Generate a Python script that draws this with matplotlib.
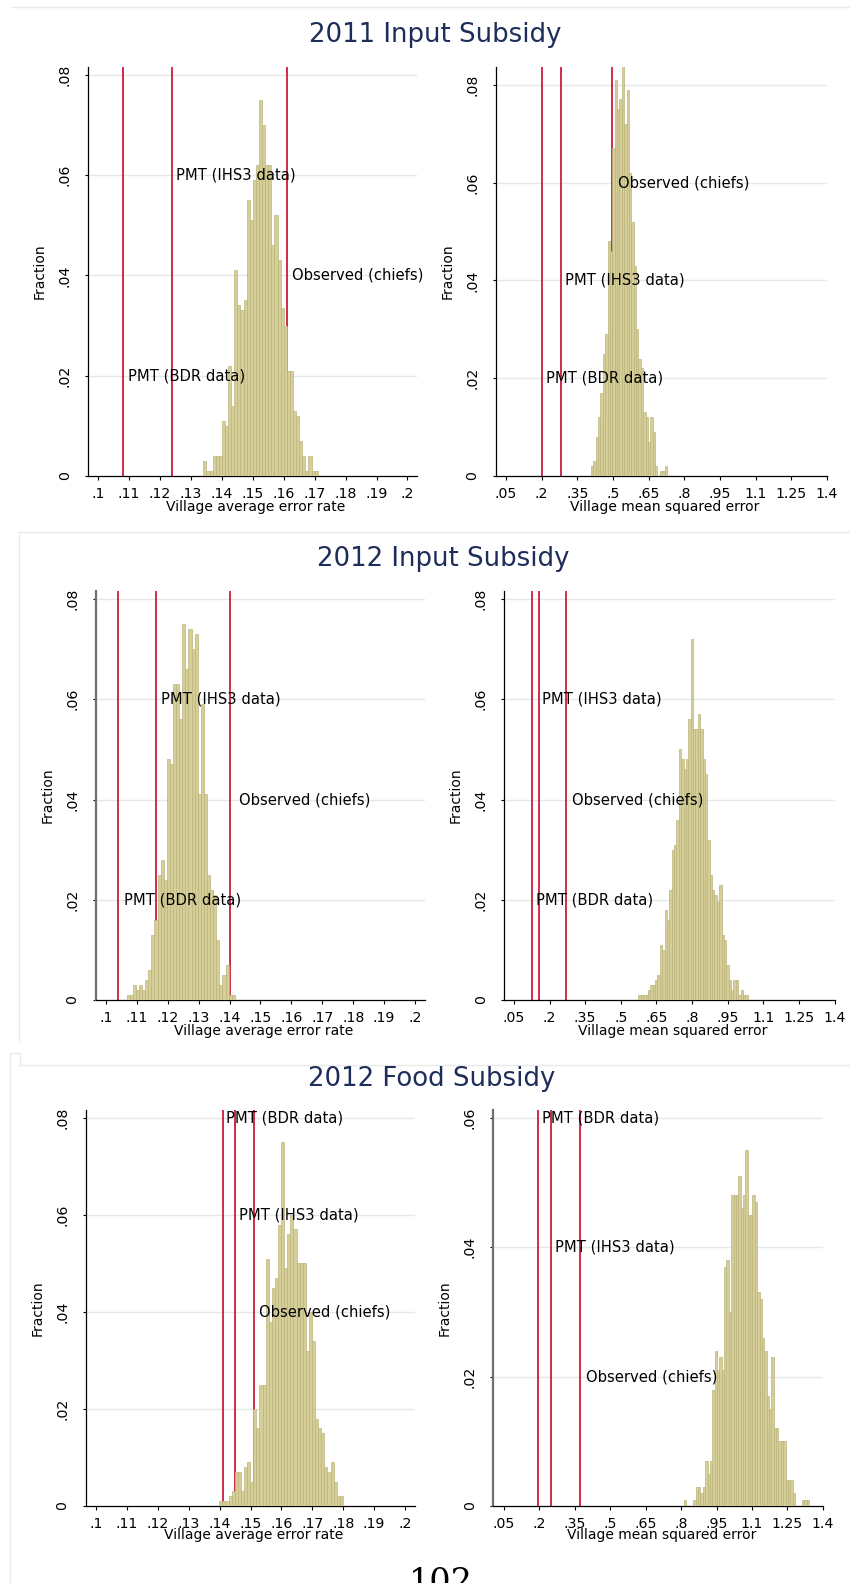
import matplotlib
matplotlib.use('Agg')
import matplotlib.pyplot as plt
from matplotlib.lines import Line2D

plt.rcParams['font.family'] = ['DejaVu Sans']

W, H = 850, 1583

# ---------------- data ----------------
titles = ['2011 Input Subsidy', '2012 Input Subsidy', '2012 Food Subsidy']
line_labels = ['PMT (BDR data)', 'PMT (IHS3 data)', 'Observed (chiefs)']
rate_xlabel = 'Village average error rate'
mse_xlabel = 'Village mean squared error'
ylabel = 'Fraction'

rate_ticks = [0.10, 0.11, 0.12, 0.13, 0.14, 0.15, 0.16, 0.17, 0.18, 0.19, 0.20]
rate_ticklabels = ['.1', '.11', '.12', '.13', '.14', '.15', '.16', '.17', '.18', '.19', '.2']
mse_ticks = [0.05, 0.2, 0.35, 0.5, 0.65, 0.8, 0.95, 1.1, 1.25, 1.4]
mse_ticklabels = ['.05', '.2', '.35', '.5', '.65', '.8', '.95', '1.1', '1.25', '1.4']
frac_ticks_08 = [0, 0.02, 0.04, 0.06, 0.08]
frac_ticklabels_08 = ['0', '.02', '.04', '.06', '.08']
frac_ticks_06 = [0, 0.02, 0.04, 0.06]
frac_ticklabels_06 = ['0', '.02', '.04', '.06']

# 2011 input subsidy - error rate
in11_rate_start, in11_rate_width = 0.134, 0.001
in11_rate_frac = [.003, .001, .001, .004, .004, .004, .011, .010, .022, .014,
                  .041, .034, .033, .035, .055, .051, .059, .062, .075, .070,
                  .062, .062, .046, .052, .043, .0335, .030, .021, .021, .013,
                  .012, .007, .004, .001, .004, .001, .001]
in11_rate_lines = [0.1081, 0.1239, 0.1610]
in11_rate_lab_x = [0.1095, 0.1251, 0.1627]
in11_rate_lab_y = [0.02, 0.06, 0.04]

# 2011 input subsidy - MSE
in11_mse_start, in11_mse_width = 0.4075, 0.01
in11_mse_frac = [.002, .003, .008, .012, .017, .025, .029, .048, .046, .067,
                 .081, .075, .077, .084, .072, .079, .062, .052, .043, .030,
                 .024, .022, .013, .012, .007, .012, .009, .002, 0, .001,
                 .001, .002]
in11_mse_lines = [0.2000, 0.2814, 0.4974]
in11_mse_lab_x = [0.2167, 0.2980, 0.5200]
in11_mse_lab_y = [0.02, 0.04, 0.06]

# 2012 input subsidy - error rate
in12_rate_start, in12_rate_width = 0.1067, 0.001
in12_rate_frac = [.001, .001, .003, .002, .003, .002, .004, .006, .013, .016,
                  .025, .028, .024, .048, .047, .063, .063, .056, .075, .066,
                  .074, .070, .073, .041, .059, .041, .025, .022, .021, .012,
                  .003, .005, .007, .001, .001]
in12_rate_lines = [0.1040, 0.1161, 0.1400]
in12_rate_lab_x = [0.1058, 0.1178, 0.1432]
in12_rate_lab_y = [0.02, 0.06, 0.04]

# 2012 input subsidy - MSE
in12_mse_start, in12_mse_width = 0.5743, 0.01
in12_mse_frac = [.001, .001, .001, .001, .002, .003, .003, .004, .005, .011,
                 .010, .018, .016, .022, .030, .031, .036, .050, .048, .046,
                 .048, .056, .072, .054, .054, .057, .054, .048, .045, .032,
                 .025, .022, .021, .0195, .023, .013, .012, .007, .004, .002,
                 .004, .004, .001, .002, .001, .001]
in12_mse_lines = [0.1271, 0.1552, 0.2688]
in12_mse_lab_x = [0.1426, 0.1692, 0.2926]
in12_mse_lab_y = [0.02, 0.06, 0.04]

# 2012 food subsidy - error rate
fd12_rate_start, fd12_rate_width = 0.1399, 0.001
fd12_rate_frac = [.001, .001, .001, .002, .003, .007, .007, .003, .008, .009,
                  .005, .020, .016, .025, .025, .051, .038, .045, .047, .058,
                  .075, .049, .056, .060, .057, .050, .050, .050, .032, .040,
                  .034, .018, .016, .015, .008, .007, .009, .005, .002, .002]
fd12_rate_lines = [0.1410, 0.1450, 0.1510]
fd12_rate_lab_x = [0.1421, 0.1462, 0.1526]
fd12_rate_lab_y = [0.08, 0.06, 0.04]

# 2012 food subsidy - MSE
fd12_mse_start, fd12_mse_width = 0.812, 0.01
fd12_mse_frac = [.001, 0, 0, 0, .001, .003, .003, .002, .003, .007,
                 .005, .007, .018, .024, .021, .023, .021, .037, .038, .030,
                 .048, .048, .048, .051, .046, .048, .055, .045, .045, .048,
                 .047, .033, .032, .026, .024, .017, .015, .023, .012, .012,
                 .010, .010, .010, .004, .004, .004, .002, 0, 0, 0,
                 .001, .001, .001]
fd12_mse_lines = [0.1937, 0.2486, 0.3739]
fd12_mse_lab_x = [0.2090, 0.2655, 0.3965]
fd12_mse_lab_y = [0.06, 0.04, 0.02]

# ---------------- style ----------------
BAR = '#D5CE99'
EDGE = '#BDB47C'
RED = '#CE1A3D'
GRID = '#E1EAEA'
TITLE_C = '#1F2D5A'

fig = plt.figure(figsize=(W / 100, H / 100), dpi=100)


def fx(x):
    return x / W


def fy(y):
    return 1 - y / H


def panel(box, xlim, ylim, xticks, xticklabels, yticks, yticklabels,
          start, width, frac, vlines, lab_x, lab_y, xlabel, xlab_y,
          spine_c='black', spine_lw=0.9):
    l, t, r, b = box
    ax = fig.add_axes([fx(l), fy(b), (r - l) / W, (b - t) / H])
    lefts = [start + i * width for i in range(len(frac))]
    ax.bar(lefts, frac, width=width, align='edge', color=BAR,
           edgecolor=EDGE, linewidth=0.5, zorder=3)
    for xv in vlines:
        ax.axvline(xv, color=RED, lw=1.3, zorder=2)
    for yv in yticks[1:]:
        ax.axhline(yv, color=GRID, lw=1.0, zorder=1)
    for txt, xx, yy in zip(line_labels, lab_x, lab_y):
        ax.text(xx, yy, txt, fontsize=10.6, ha='left', va='center',
                color='black', zorder=6)
    ax.set_xlim(xlim)
    ax.set_ylim(ylim)
    ax.set_xticks(xticks)
    ax.set_xticklabels(xticklabels, fontsize=10.2)
    ax.set_yticks(yticks)
    ax.set_yticklabels(yticklabels, fontsize=10.2, rotation=90, va='center')
    ax.tick_params(axis='x', length=3, width=0.8, pad=5, direction='out')
    ax.tick_params(axis='y', length=2.5, width=0.8, pad=9.5, direction='out')
    for s in ['top', 'right']:
        ax.spines[s].set_visible(False)
    ax.spines['bottom'].set_linewidth(0.9)
    ax.spines['left'].set_linewidth(spine_lw)
    ax.spines['left'].set_color(spine_c)
    ax.patch.set_alpha(0)
    # axis titles
    fig.text(fx((l + r) / 2 + 3), fy(xlab_y), xlabel, fontsize=10,
             ha='center', va='center')
    fig.text(fx(l - 48.5), fy((t + b) / 2), ylabel, fontsize=10,
             ha='center', va='center', rotation=90)
    return ax


# row 1
panel((88.3, 66.7, 416.7, 476), (0.0968, 0.2030), (0, 0.0816),
      rate_ticks, rate_ticklabels, frac_ticks_08, frac_ticklabels_08,
      in11_rate_start, in11_rate_width, in11_rate_frac,
      in11_rate_lines, in11_rate_lab_x, in11_rate_lab_y, rate_xlabel, 506.5)
panel((496, 66.7, 827.3, 476), (0.008, 1.402), (0, 0.0837),
      mse_ticks, mse_ticklabels, frac_ticks_08, frac_ticklabels_08,
      in11_mse_start, in11_mse_width, in11_mse_frac,
      in11_mse_lines, in11_mse_lab_x, in11_mse_lab_y, mse_xlabel, 506.5)
# row 2
panel((96, 591, 425, 1000), (0.0968, 0.2032), (0, 0.0816),
      rate_ticks, rate_ticklabels, frac_ticks_08, frac_ticklabels_08,
      in12_rate_start, in12_rate_width, in12_rate_frac,
      in12_rate_lines, in12_rate_lab_x, in12_rate_lab_y, rate_xlabel, 1030.8,
      spine_c='#6E6E6E', spine_lw=1.6)
panel((504.3, 591, 835, 1000), (0.0092, 1.402), (0, 0.0816),
      mse_ticks, mse_ticklabels, frac_ticks_08, frac_ticklabels_08,
      in12_mse_start, in12_mse_width, in12_mse_frac,
      in12_mse_lines, in12_mse_lab_x, in12_mse_lab_y, mse_xlabel, 1030.8)
# row 3
panel((85.7, 1110, 415, 1506), (0.0967, 0.2032), (0, 0.0816),
      rate_ticks, rate_ticklabels, frac_ticks_08, frac_ticklabels_08,
      fd12_rate_start, fd12_rate_width, fd12_rate_frac,
      fd12_rate_lines, fd12_rate_lab_x, fd12_rate_lab_y, rate_xlabel, 1535.5)
panel((493.3, 1110, 823.3, 1506), (0.0048, 1.402), (0, 0.0612),
      mse_ticks, mse_ticklabels, frac_ticks_06, frac_ticklabels_06,
      fd12_mse_start, fd12_mse_width, fd12_mse_frac,
      fd12_mse_lines, fd12_mse_lab_x, fd12_mse_lab_y, mse_xlabel, 1535.5,
      spine_c='#6E6E6E', spine_lw=1.6)

# titles
for txt, xc, yc in zip(titles, [435, 443, 432], [35, 559, 1079]):
    fig.text(fx(xc), fy(yc), txt, fontsize=18.7, color=TITLE_C,
             ha='center', va='center')

# faint page frame lines of the pasted graphs
FRAME = '#EAEAEA'
frame_segments = [
    ((12, 850), (7, 7)),
    ((19, 850), (532, 532)),
    ((19, 19), (532, 1040)),
    ((20, 850), (1065, 1065)),
    ((10, 10), (1053, 1583)),
    ((10, 20), (1053, 1053)),
    ((20, 20), (1053, 1065)),
]
for xs, ys in frame_segments:
    fig.add_artist(Line2D([fx(v) for v in xs], [fy(v) for v in ys],
                          color=FRAME, lw=1.0))

# page number (cut off at the bottom edge, as on the scanned page)
fig.text(fx(441), fy(1567), '102', fontsize=24, family='DejaVu Serif',
         ha='center', va='top', color='black')

fig.savefig('out.png', dpi=100)
